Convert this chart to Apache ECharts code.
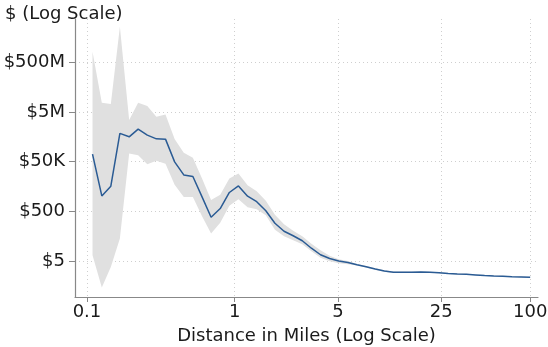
<!DOCTYPE html>
<html>
<head>
<meta charset="utf-8">
<script src="https://cdn.jsdelivr.net/npm/echarts@6/dist/echarts.min.js"></script>
<style>html,body{margin:0;padding:0;background:#fff;}#c{width:548px;height:347px;}</style>
</head>
<body>
<div id="c"></div>
<script>
// Distance in miles (bin centres, log spaced)
const distances = [0.109, 0.126, 0.145, 0.167, 0.193, 0.222, 0.256, 0.295, 0.340, 0.392,
  0.452, 0.521, 0.601, 0.692, 0.798, 0.920, 1.060, 1.222, 1.409, 1.624,
  1.872, 2.158, 2.487, 2.867, 3.305, 3.809, 4.392, 5.061, 5.835, 6.725,
  7.752, 8.936, 10.30, 11.88, 13.69, 15.78, 18.19, 20.96, 24.16, 27.85,
  32.11, 37.02, 42.66, 49.17, 56.68, 65.34, 75.31, 86.83, 100.0];
// Estimated value ($)
const estimate = [1.0e5, 2110, 5180, 6.81e5, 4.97e5, 1.01e6, 5.81e5, 4.13e5, 4.01e5, 4.91e4,
  1.47e4, 1.27e4, 1923, 294, 657, 2890, 5320, 2051, 1233, 536,
  169, 80.4, 53, 33.4, 16.7, 9.12, 6.42, 5.14, 4.43, 3.62,
  3.01, 2.45, 2.02, 1.81, 1.81, 1.82, 1.86, 1.81, 1.72, 1.62,
  1.54, 1.50, 1.42, 1.34, 1.29, 1.25, 1.20, 1.17, 1.14];
// Upper confidence bound ($)
const upperBound = [1.30e9, 1.16e7, 1.03e7, 1.31e10, 2.33e6, 1.16e7, 8.51e6, 3.16e6, 3.95e6, 4.02e5,
  1.13e5, 7.24e4, 1.06e4, 1456, 2357, 1.06e4, 1.68e4, 5680, 3260, 1352,
  370, 154, 84.2, 50.6, 25.3, 13.8, 8.32, 6.01, 5.09, 3.9,
  3.24, 2.63, 2.16, 1.93, 1.92, 1.92, 1.95, 1.90, 1.80, 1.69,
  1.61, 1.56, 1.48, 1.39, 1.34, 1.30, 1.25, 1.21, 1.18];
// Lower confidence bound ($)
const lowerBound = [8.71, 0.438, 2.95, 40.9, 1.07e5, 9.12e4, 3.96e4, 5.38e4, 4.16e4, 5950,
  1923, 1923, 322, 65, 177, 851, 1553, 741, 615, 353,
  92.3, 50.6, 34.9, 24.1, 12.6, 6.92, 5.0, 4.16, 3.79, 3.36,
  2.80, 2.28, 1.89, 1.70, 1.71, 1.72, 1.77, 1.73, 1.65, 1.55,
  1.48, 1.44, 1.37, 1.29, 1.24, 1.20, 1.16, 1.13, 1.10];
// Tick values and labels
const xTicks = [0.1, 1, 5, 25, 100];
const xTickLabels = ['0.1', '1', '5', '25', '100'];
const yTicks = [5, 500, 5e4, 5e6, 5e8];
const yTickLabels = ['$5', '$500', '$50K', '$5M', '$500M'];
// Visible axis ranges (raw units)
const xRange = [0.08296, 113];
const yRange = [0.1836, 2.68e10];

const FONT = 'DejaVu Sans';
const L = Math.log10;
const chart = echarts.init(document.getElementById('c'), null, {renderer: 'canvas'});

function labelFor(ticks, labels, v) {
  for (let i = 0; i < ticks.length; i++) {
    if (Math.abs(v - L(ticks[i])) < 1e-6) return labels[i];
  }
  return '';
}

chart.setOption({
  animation: false,
  title: {
    text: '$ (Log Scale)', left: 0, top: 0,
    textStyle: {fontFamily: FONT, fontSize: 18, fontWeight: 'normal', color: '#1a1a1a'}
  },
  grid: {left: 75, right: 10, top: 19, bottom: 50, containLabel: false, outerBoundsMode: 'none'},
  xAxis: {
    type: 'value', min: L(xRange[0]), max: L(xRange[1]),
    name: 'Distance in Miles (Log Scale)', nameLocation: 'middle', nameGap: 30,
    nameTextStyle: {fontFamily: FONT, fontSize: 18, color: '#1a1a1a'},
    axisLine: {show: true, onZero: false, lineStyle: {color: '#888', width: 1.2}},
    axisTick: {show: true, customValues: xTicks.map(L), length: 5, lineStyle: {color: '#888'}},
    axisLabel: {customValues: xTicks.map(L), margin: 6, fontFamily: FONT, fontSize: 18, color: '#1a1a1a',
      formatter: v => labelFor(xTicks, xTickLabels, v)},
    splitLine: {show: true, lineStyle: {color: '#cfcfcf', type: [1, 3], width: 1}}
  },
  yAxis: {
    type: 'value', min: L(yRange[0]), max: L(yRange[1]),
    axisLine: {show: true, onZero: false, lineStyle: {color: '#888', width: 1.2}},
    axisTick: {show: true, customValues: yTicks.map(L), length: 6, lineStyle: {color: '#888'}},
    axisLabel: {customValues: yTicks.map(L), margin: 10, fontFamily: FONT, fontSize: 18, color: '#1a1a1a',
      formatter: v => labelFor(yTicks, yTickLabels, v)},
    splitLine: {show: true, lineStyle: {color: '#cfcfcf', type: [1, 3], width: 1}}
  },
  series: [
    {
      type: 'custom', silent: true, z: 1, clip: true,
      data: distances.map((d, i) => [L(d), L(lowerBound[i]), L(upperBound[i])]),
      encode: {x: 0, y: [1, 2]},
      renderItem: function (params, api) {
        if (params.dataIndex !== 0) return null;
        const pts = [];
        for (let i = 0; i < distances.length; i++) pts.push(api.coord([L(distances[i]), L(upperBound[i])]));
        for (let i = distances.length - 1; i >= 0; i--) pts.push(api.coord([L(distances[i]), L(lowerBound[i])]));
        return {type: 'polygon', shape: {points: pts}, style: {fill: '#e0e0e0'}};
      }
    },
    {
      type: 'line', z: 3, symbol: 'none', silent: true,
      data: distances.map((d, i) => [L(d), L(estimate[i])]),
      lineStyle: {color: '#2a5b94', width: 1.5}
    }
  ]
});
</script>
</body>
</html>
